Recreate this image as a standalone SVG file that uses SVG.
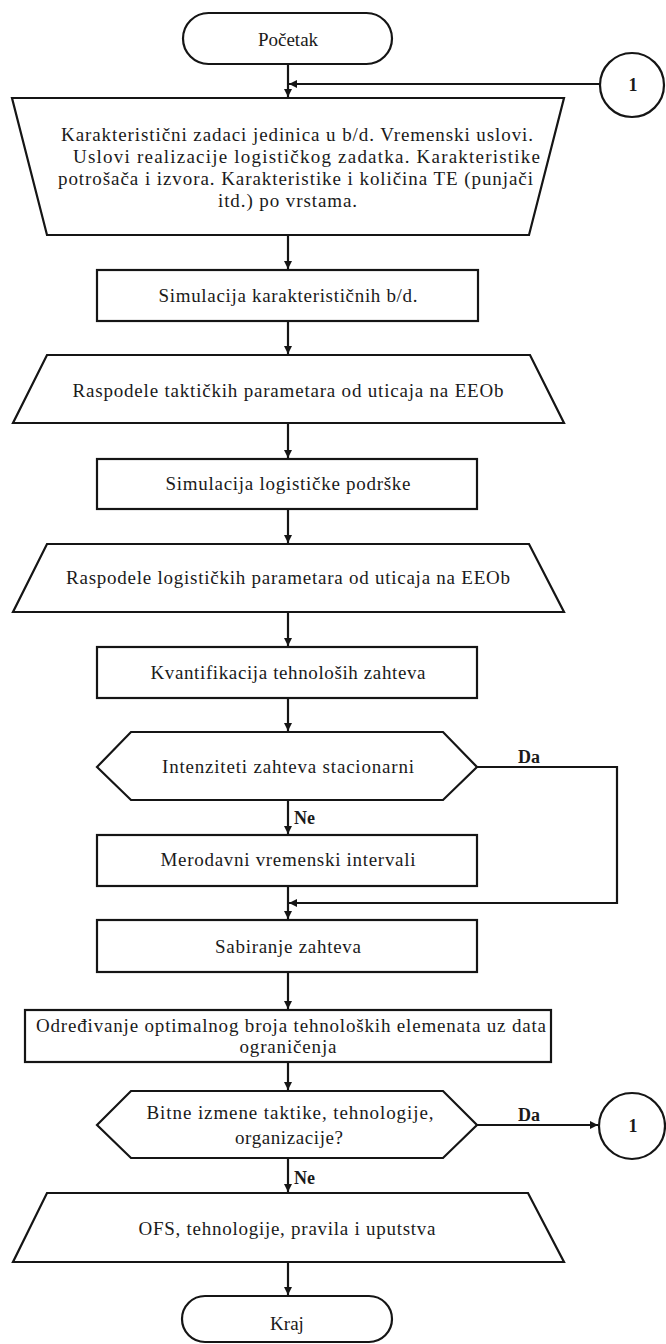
<svg xmlns="http://www.w3.org/2000/svg" width="666" height="1344" viewBox="0 0 666 1344">
<defs>
<marker id="ah" viewBox="0 0 10 10" refX="10" refY="5" markerWidth="9" markerHeight="8" markerUnits="userSpaceOnUse" orient="auto">
<path d="M0,0 L10,5 L0,10 z" fill="#151515"/>
</marker>
<style>
.s{fill:#fff;stroke:#151515;stroke-width:2.2}
.c{fill:none;stroke:#151515;stroke-width:2.2}
.t{font-family:"Liberation Serif","Times New Roman",serif;font-size:19px;fill:#1a1a1a}
.b{font-family:"Liberation Serif","Times New Roman",serif;font-size:18px;font-weight:bold;fill:#1a1a1a}
.m{text-anchor:middle}
</style>
</defs>
<rect width="666" height="1344" fill="#fff"/>
<g id="connectors">
<path class="c" d="M288,64 V97" marker-end="url(#ah)"/>
<path class="c" d="M600,84 H289" marker-end="url(#ah)"/>
<path class="c" d="M288,235 V269" marker-end="url(#ah)"/>
<path class="c" d="M288,321 V354" marker-end="url(#ah)"/>
<path class="c" d="M288,423 V458" marker-end="url(#ah)"/>
<path class="c" d="M288,509 V543" marker-end="url(#ah)"/>
<path class="c" d="M288,612 V646" marker-end="url(#ah)"/>
<path class="c" d="M288,698 V731" marker-end="url(#ah)"/>
<path class="c" d="M288,800 V834" marker-end="url(#ah)"/>
<path class="c" d="M477,767 H617 V903 H289" marker-end="url(#ah)"/>
<path class="c" d="M288,886 V919" marker-end="url(#ah)"/>
<path class="c" d="M288,972 V1009" marker-end="url(#ah)"/>
<path class="c" d="M288,1062 V1090" marker-end="url(#ah)"/>
<path class="c" d="M288,1158 V1192" marker-end="url(#ah)"/>
<path class="c" d="M477,1125 H598" marker-end="url(#ah)"/>
<path class="c" d="M288,1262 V1295" marker-end="url(#ah)"/>
<text class="b" x="518" y="763">Da</text>
<text class="b" x="294" y="824">Ne</text>
<text class="b" x="518" y="1121">Da</text>
<text class="b" x="294" y="1184">Ne</text>
</g>
<g id="start">
<rect class="s" x="183" y="13" width="209" height="51" rx="25.5"/>
<text class="t m" x="288" y="46">Početak</text>
</g>
<g id="conn1-top">
<circle class="s" cx="632" cy="85" r="32"/>
<text class="b m" x="633" y="91">1</text>
</g>
<g id="input">
<polygon class="s" points="12,98 564,98 529,235 47,235"/>
<text class="t" x="61" y="141" textLength="472" lengthAdjust="spacing">Karakteristični zadaci jedinica u b/d. Vremenski uslovi.</text>
<text class="t" x="73" y="163" textLength="467" lengthAdjust="spacing">Uslovi realizacije logističkog zadatka. Karakteristike</text>
<text class="t" x="58" y="185" textLength="475" lengthAdjust="spacing">potrošača i izvora. Karakteristike i količina TE (punjači</text>
<text class="t" x="218" y="207" textLength="139" lengthAdjust="spacing">itd.) po vrstama.</text>
</g>
<g id="sim-bd">
<rect class="s" x="97" y="270" width="381" height="51"/>
<text class="t m" x="288" y="302" textLength="259" lengthAdjust="spacing">Simulacija karakterističnih b/d.</text>
</g>
<g id="rasp-takt">
<polygon class="s" points="47,355 530,355 564,423 13,423"/>
<text class="t m" x="288" y="397" textLength="431" lengthAdjust="spacing">Raspodele taktičkih parametara od uticaja na EEOb</text>
</g>
<g id="sim-log">
<rect class="s" x="97" y="459" width="380" height="50"/>
<text class="t m" x="288" y="490" textLength="245" lengthAdjust="spacing">Simulacija logističke podrške</text>
</g>
<g id="rasp-log">
<polygon class="s" points="47,544 529,544 564,612 13,612"/>
<text class="t m" x="288" y="584" textLength="444" lengthAdjust="spacing">Raspodele logističkih parametara od uticaja na EEOb</text>
</g>
<g id="kvant">
<rect class="s" x="97" y="647" width="380" height="51"/>
<text class="t m" x="288" y="679" textLength="275" lengthAdjust="spacing">Kvantifikacija tehnološih zahteva</text>
</g>
<g id="dec-stac">
<polygon class="s" points="97,767 131,732 443,732 477,767 443,800 131,800"/>
<text class="t m" x="288" y="773" textLength="252" lengthAdjust="spacing">Intenziteti zahteva stacionarni</text>
</g>
<g id="merod">
<rect class="s" x="97" y="835" width="380" height="51"/>
<text class="t m" x="288" y="866" textLength="255" lengthAdjust="spacing">Merodavni vremenski intervali</text>
</g>
<g id="sabir">
<rect class="s" x="97" y="920" width="380" height="52"/>
<text class="t m" x="288" y="953" textLength="146" lengthAdjust="spacing">Sabiranje zahteva</text>
</g>
<g id="odredj">
<rect class="s" x="25" y="1010" width="526" height="52"/>
<text class="t" x="36" y="1032" textLength="510" lengthAdjust="spacing">Određivanje optimalnog broja tehnoloških elemenata uz data</text>
<text class="t m" x="288" y="1053" textLength="97" lengthAdjust="spacing">ograničenja</text>
</g>
<g id="dec-izm">
<polygon class="s" points="97,1125 131,1091 443,1091 477,1125 443,1158 131,1158"/>
<text class="t m" x="290" y="1119" textLength="287" lengthAdjust="spacing">Bitne izmene taktike, tehnologije,</text>
<text class="t m" x="289" y="1144" textLength="108" lengthAdjust="spacing">organizacije?</text>
</g>
<g id="output">
<polygon class="s" points="47,1193 528,1193 564,1262 13,1262"/>
<text class="t m" x="287" y="1235" textLength="297" lengthAdjust="spacing">OFS, tehnologije, pravila i uputstva</text>
</g>
<g id="conn1-bottom">
<circle class="s" cx="632" cy="1126" r="33"/>
<text class="b m" x="633" y="1132">1</text>
</g>
<g id="end">
<rect class="s" x="182" y="1296" width="210" height="46" rx="23"/>
<text class="t m" x="287" y="1330">Kraj</text>
</g>
</svg>
